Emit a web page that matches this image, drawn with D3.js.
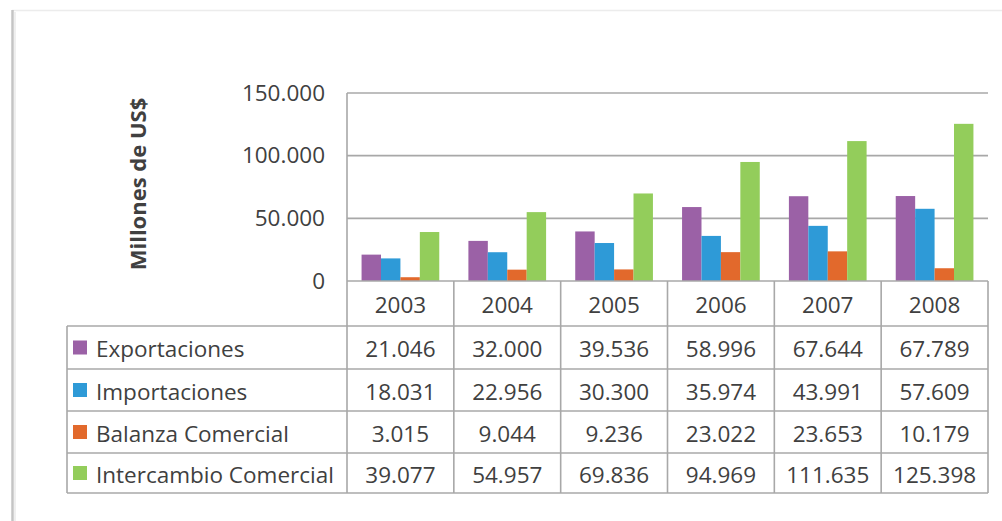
<!DOCTYPE html>
<html><head><meta charset="utf-8">
<script src="https://cdn.jsdelivr.net/npm/d3@7"></script>
<style>html,body{margin:0;padding:0;background:#fff;}svg{display:block;}</style>
</head><body>
<svg id="c" width="1002" height="521"></svg>
<script>
const years = ["2003","2004","2005","2006","2007","2008"];
const seriesNames = ["Exportaciones","Importaciones","Balanza Comercial","Intercambio Comercial"];
const exportaciones = [21046, 32000, 39536, 58996, 67644, 67789];
const importaciones = [18031, 22956, 30300, 35974, 43991, 57609];
const balanza = [3015, 9044, 9236, 23022, 23653, 10179];
const intercambio = [39077, 54957, 69836, 94969, 111635, 125398];
const yTicks = [0, 50000, 100000, 150000];
const yTitle = "Millones de US$";
const colors = ["#9b61a6", "#2e9ad7", "#e2692c", "#93cd5b"];

const seriesValues = [exportaciones, importaciones, balanza, intercambio];
const loc = d3.formatLocale({decimal: ",", thousands: ".", grouping: [3], currency: ["", "US$"]});
const fmt = loc.format(",");

const svg = d3.select("#c");
const font = "'Open Sans', sans-serif";
const textCol = "#404040";
const lineCol = "#a8a8a8";
const numSize = 22.5;
const labSize = 22.5;

// frame
svg.append("line").attr("x1", 12).attr("x2", 1002).attr("y1", 10.5).attr("y2", 10.5)
  .attr("stroke", "#ececec").attr("stroke-width", 1.5);
svg.append("line").attr("x1", 12.5).attr("x2", 12.5).attr("y1", 10).attr("y2", 521)
  .attr("stroke", "#c4c4c4").attr("stroke-width", 2.5);
svg.append("line").attr("x1", 15).attr("x2", 15).attr("y1", 12).attr("y2", 521)
  .attr("stroke", "#efefef").attr("stroke-width", 2);

const plotLeft = 347, plotRight = 988, plotTop = 93, plotBase = 281;
const x0 = d3.scaleBand().domain(years).range([plotLeft, plotRight]).padding(0);
const x1 = d3.scaleBand().domain(seriesNames).range([0, x0.bandwidth()]).paddingInner(0).paddingOuter(0.75);
const y = d3.scaleLinear().domain([0, 150000]).range([plotBase, plotTop]);

// gridlines
svg.append("g").selectAll("line").data(yTicks.filter(d => d > 0)).join("line")
  .attr("x1", plotLeft).attr("x2", plotRight)
  .attr("y1", d => y(d)).attr("y2", d => y(d))
  .attr("stroke", lineCol).attr("stroke-width", 1.6);

// y axis labels
const yAxis = d3.axisLeft(y).tickValues(yTicks).tickFormat(fmt).tickSize(0).tickPadding(22);
const ga = svg.append("g").attr("transform", `translate(${plotLeft},0)`).call(yAxis);
ga.select(".domain").remove();
ga.selectAll("text").attr("font-family", font).attr("font-size", numSize).attr("fill", textCol);

// axis title
svg.append("text").attr("transform", "translate(137,184) rotate(-90)")
  .attr("text-anchor", "middle").attr("dominant-baseline", "central")
  .attr("font-family", font).attr("font-size", 22).attr("font-weight", "bold").attr("fill", textCol)
  .text(yTitle);

// bars
const groups = svg.append("g").selectAll("g").data(years).join("g")
  .attr("transform", d => `translate(${x0(d)},0)`);
groups.selectAll("rect").data((yr, i) => seriesNames.map((s, k) => ({s, k, v: seriesValues[k][i]}))).join("rect")
  .attr("x", d => x1(d.s)).attr("width", x1.bandwidth())
  .attr("y", d => y(d.v)).attr("height", d => plotBase - y(d.v))
  .attr("fill", d => colors[d.k]);

// table
const tableLeft = 67;
const rowEdges = [281, 326, 369, 411, 453, 493];
const tg = svg.append("g");
tg.append("line").attr("x1", plotLeft).attr("x2", plotRight).attr("y1", plotBase).attr("y2", plotBase).attr("stroke", lineCol).attr("stroke-width", 1.6);
rowEdges.slice(1).forEach(yy => {
  tg.append("line").attr("x1", tableLeft).attr("x2", plotRight).attr("y1", yy).attr("y2", yy).attr("stroke", lineCol).attr("stroke-width", 1.6);
});
tg.append("line").attr("x1", tableLeft).attr("x2", tableLeft).attr("y1", rowEdges[1]).attr("y2", rowEdges[5]).attr("stroke", lineCol).attr("stroke-width", 1.6);
tg.append("line").attr("x1", plotLeft).attr("x2", plotLeft).attr("y1", plotTop).attr("y2", rowEdges[5]).attr("stroke", lineCol).attr("stroke-width", 1.6);
years.forEach(yr => {
  const xe = x0(yr) + x0.bandwidth();
  tg.append("line").attr("x1", xe).attr("x2", xe).attr("y1", plotBase).attr("y2", rowEdges[5]).attr("stroke", lineCol).attr("stroke-width", 1.6);
});
tg.selectAll("text.yr").data(years).join("text").attr("class", "yr")
  .attr("x", d => x0(d) + x0.bandwidth() / 2).attr("y", (rowEdges[0] + rowEdges[1]) / 2 + 1)
  .attr("text-anchor", "middle").attr("dominant-baseline", "central")
  .attr("font-family", font).attr("font-size", numSize).attr("fill", textCol).text(d => d);
seriesNames.forEach((s, k) => {
  const cy = (rowEdges[k + 1] + rowEdges[k + 2]) / 2;
  tg.append("rect").attr("x", 73).attr("y", cy - 7).attr("width", 14).attr("height", 14).attr("fill", colors[k]);
  tg.append("text").attr("x", 96).attr("y", cy + 1).attr("dominant-baseline", "central")
    .attr("font-family", font).attr("font-size", labSize).attr("fill", textCol).text(s);
  years.forEach((yr, i) => {
    tg.append("text").attr("x", x0(yr) + x0.bandwidth() / 2).attr("y", cy + 1)
      .attr("text-anchor", "middle").attr("dominant-baseline", "central")
      .attr("font-family", font).attr("font-size", numSize).attr("fill", textCol).text(fmt(seriesValues[k][i]));
  });
});
</script>
</body></html>
